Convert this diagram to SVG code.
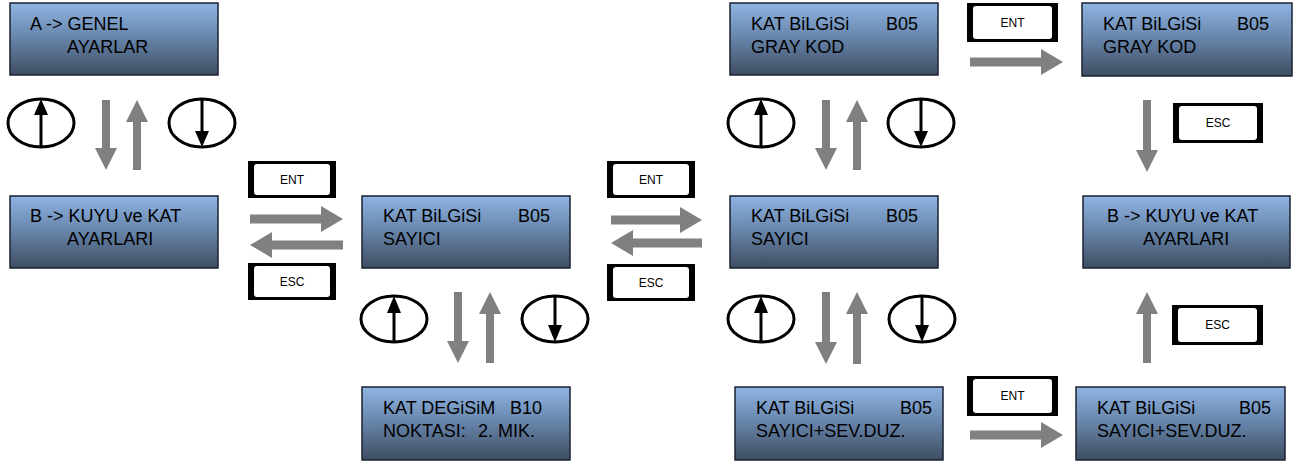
<svg xmlns="http://www.w3.org/2000/svg" width="1306" height="464" viewBox="0 0 1306 464">
<defs>
<linearGradient id="lcd" x1="0" y1="0" x2="0" y2="1">
<stop offset="0" stop-color="#8fb5e4"/>
<stop offset="0.5" stop-color="#6683a8"/>
<stop offset="1" stop-color="#3e4d62"/>
</linearGradient>
</defs>
<style>
.box{fill:url(#lcd);stroke:#1b2230;stroke-width:1.5}
.t{font-family:"Liberation Sans",Arial,sans-serif;font-size:18px;fill:#000}
.bt{font-family:"Liberation Sans",Arial,sans-serif;font-size:12px;fill:#000;text-anchor:middle}
.bo{fill:#000}
.bi{fill:#fff}
.ga{fill:#808080}
.el{fill:none;stroke:#000;stroke-width:3}
.ln{stroke:#000;stroke-width:3}
.hd{fill:#000}
</style>

<g id="connectors">
<polygon class="ga" points="250,214.5 321,214.5 321,206 343,219 321,232 321,223.5 250,223.5"/>
<polygon class="ga" points="343,240.5 272,240.5 272,232 250,245 272,258 272,249.5 343,249.5"/>
<polygon class="ga" points="611,215.5 680,215.5 680,207 702,220 680,233 680,224.5 611,224.5"/>
<polygon class="ga" points="702,238.5 633,238.5 633,230 611,243 633,256 633,247.5 702,247.5"/>
<polygon class="ga" points="970,57.5 1041,57.5 1041,49 1063,62 1041,75 1041,66.5 970,66.5"/>
<polygon class="ga" points="970,430.5 1041,430.5 1041,422 1063,435 1041,448 1041,439.5 970,439.5"/>
<polygon class="ga" points="102,100 110,100 110,148 117,148 106,170 95,148 102,148"/>
<polygon class="ga" points="133,170 141,170 141,122 148,122 137,100 126,122 133,122"/>
<polygon class="ga" points="454,292 462,292 462,341 469,341 458,363 447,341 454,341"/>
<polygon class="ga" points="486,363 494,363 494,314 501,314 490,292 479,314 486,314"/>
<polygon class="ga" points="822,100 830,100 830,148 837,148 826,170 815,148 822,148"/>
<polygon class="ga" points="853,170 861,170 861,122 868,122 857,100 846,122 853,122"/>
<polygon class="ga" points="822,292 830,292 830,342 837,342 826,364 815,342 822,342"/>
<polygon class="ga" points="853,364 861,364 861,314 868,314 857,292 846,314 853,314"/>
<polygon class="ga" points="1143,100 1151,100 1151,150 1158,150 1147,172 1136,150 1143,150"/>
<polygon class="ga" points="1143,363 1151,363 1151,314 1158,314 1147,292 1136,314 1143,314"/>
</g>

<g id="n1"><rect class="box" x="10" y="3" width="208" height="72"/><text class="t" x="30" y="30">A -&gt; GENEL</text><text class="t" x="67" y="53">AYARLAR</text></g>
<g id="n2"><rect class="box" x="10" y="196" width="208" height="72"/><text class="t" x="30" y="222">B -&gt; KUYU ve KAT</text><text class="t" x="67" y="245">AYARLARI</text></g>
<g id="n3"><rect class="box" x="362" y="196" width="208" height="72"/><text class="t" x="383" y="222">KAT BiLGiSi</text><text class="t" x="518" y="222">B05</text><text class="t" x="383" y="245">SAYICI</text></g>
<g id="n4"><rect class="box" x="362" y="387" width="208" height="73"/><text class="t" x="383" y="414">KAT DEGiSiM</text><text class="t" x="510" y="414">B10</text><text class="t" x="383" y="437">NOKTASI:</text><text class="t" x="478" y="437">2. MIK.</text></g>
<g id="n5"><rect class="box" x="730" y="3" width="208" height="72"/><text class="t" x="751" y="30">KAT BiLGiSi</text><text class="t" x="886" y="30">B05</text><text class="t" x="751" y="53">GRAY KOD</text></g>
<g id="n6"><rect class="box" x="1082" y="3" width="210" height="73"/><text class="t" x="1103" y="30">KAT BiLGiSi</text><text class="t" x="1237" y="30">B05</text><text class="t" x="1103" y="53">GRAY KOD</text></g>
<g id="n7"><rect class="box" x="730" y="196" width="208" height="72"/><text class="t" x="751" y="222">KAT BiLGiSi</text><text class="t" x="886" y="222">B05</text><text class="t" x="751" y="245">SAYICI</text></g>
<g id="n8"><rect class="box" x="1083" y="196" width="207" height="72"/><text class="t" x="1107" y="222">B -&gt; KUYU ve KAT</text><text class="t" x="1143" y="245">AYARLARI</text></g>
<g id="n9"><rect class="box" x="735" y="387" width="208" height="73"/><text class="t" x="756" y="414">KAT BiLGiSi</text><text class="t" x="900" y="414">B05</text><text class="t" x="756" y="437">SAYICI+SEV.DUZ.</text></g>
<g id="n10"><rect class="box" x="1076" y="387" width="209" height="73"/><text class="t" x="1097" y="414">KAT BiLGiSi</text><text class="t" x="1239" y="414">B05</text><text class="t" x="1097" y="437">SAYICI+SEV.DUZ.</text></g>

<g id="b1"><rect class="bo" x="248" y="161" width="88" height="37"/><rect class="bi" x="254" y="164" width="76" height="31" rx="3"/><text class="bt" x="292" y="184">ENT</text></g>
<g id="b2"><rect class="bo" x="248" y="263" width="88" height="37"/><rect class="bi" x="254" y="266" width="76" height="31" rx="3"/><text class="bt" x="292" y="286">ESC</text></g>
<g id="b3"><rect class="bo" x="607" y="161" width="88" height="37"/><rect class="bi" x="613" y="164" width="76" height="31" rx="3"/><text class="bt" x="651" y="184">ENT</text></g>
<g id="b4"><rect class="bo" x="607" y="264" width="88" height="37"/><rect class="bi" x="613" y="267" width="76" height="31" rx="3"/><text class="bt" x="651" y="287">ESC</text></g>
<g id="b5"><rect class="bo" x="967" y="3" width="91" height="39"/><rect class="bi" x="973" y="6" width="79" height="33" rx="3"/><text class="bt" x="1012.5" y="27">ENT</text></g>
<g id="b6"><rect class="bo" x="1173" y="103" width="90" height="40"/><rect class="bi" x="1179" y="106" width="78" height="34" rx="3"/><text class="bt" x="1218" y="127">ESC</text></g>
<g id="b7"><rect class="bo" x="1172" y="305" width="91" height="40"/><rect class="bi" x="1178" y="308" width="79" height="34" rx="3"/><text class="bt" x="1217.5" y="329">ESC</text></g>
<g id="b8"><rect class="bo" x="967" y="376" width="91" height="40"/><rect class="bi" x="973" y="379" width="79" height="34" rx="3"/><text class="bt" x="1012.5" y="400">ENT</text></g>

<g id="e1"><ellipse class="el" cx="41" cy="123" rx="33" ry="24"/><line class="ln" x1="41" y1="147" x2="41" y2="112"/><polygon class="hd" points="34,115 41,99 48,115"/></g>
<g id="e2"><ellipse class="el" cx="202" cy="123" rx="33" ry="24"/><line class="ln" x1="202" y1="99" x2="202" y2="134"/><polygon class="hd" points="195,131 202,147 209,131"/></g>
<g id="e3"><ellipse class="el" cx="394" cy="319" rx="33" ry="23"/><line class="ln" x1="394" y1="342" x2="394" y2="310"/><polygon class="hd" points="387,313 394,296 401,313"/></g>
<g id="e4"><ellipse class="el" cx="555" cy="319" rx="33" ry="23"/><line class="ln" x1="555" y1="296" x2="555" y2="328"/><polygon class="hd" points="548,325 555,342 562,325"/></g>
<g id="e5"><ellipse class="el" cx="761" cy="123" rx="33" ry="24"/><line class="ln" x1="761" y1="147" x2="761" y2="112"/><polygon class="hd" points="754,115 761,99 768,115"/></g>
<g id="e6"><ellipse class="el" cx="921" cy="123" rx="33" ry="24"/><line class="ln" x1="921" y1="99" x2="921" y2="134"/><polygon class="hd" points="914,131 921,147 928,131"/></g>
<g id="e7"><ellipse class="el" cx="761" cy="319" rx="33" ry="23"/><line class="ln" x1="761" y1="342" x2="761" y2="310"/><polygon class="hd" points="754,313 761,296 768,313"/></g>
<g id="e8"><ellipse class="el" cx="922" cy="319" rx="33" ry="23"/><line class="ln" x1="922" y1="296" x2="922" y2="328"/><polygon class="hd" points="915,325 922,342 929,325"/></g>
</svg>
